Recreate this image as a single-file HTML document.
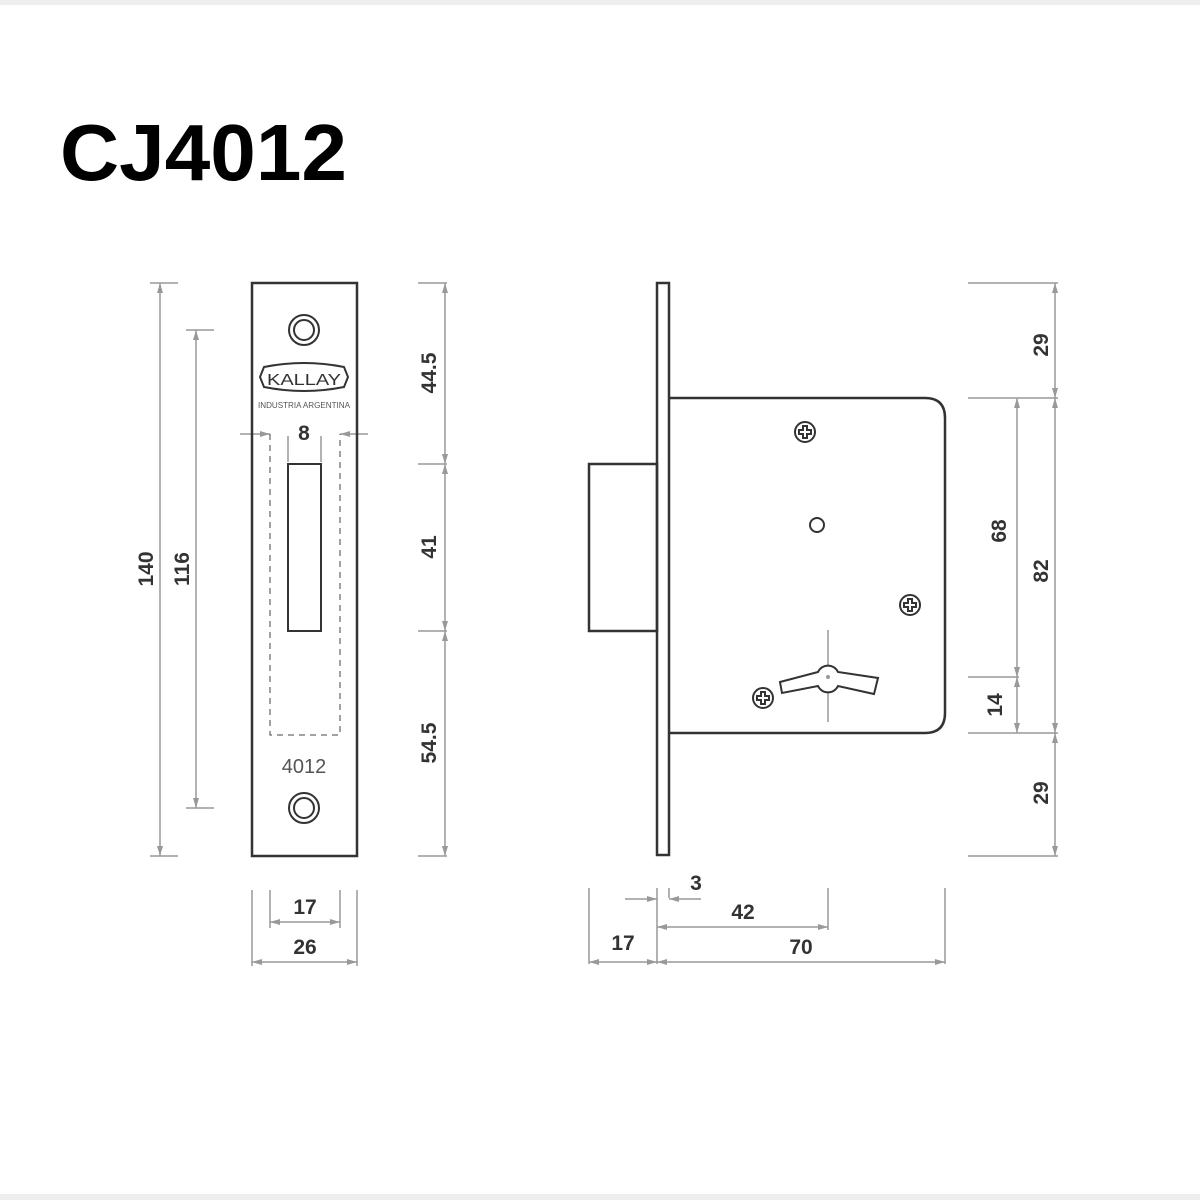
<!DOCTYPE html>
<html><head><meta charset="utf-8"><style>body{margin:0;background:#fff}svg{display:block}</style></head>
<body>
<svg width="1200" height="1200" viewBox="0 0 1200 1200" xmlns="http://www.w3.org/2000/svg" font-family="Liberation Sans, sans-serif">
<defs>
<marker id="a" viewBox="0 0 10 6" refX="10" refY="3" markerWidth="14" markerHeight="6" markerUnits="userSpaceOnUse" orient="auto-start-reverse"><path d="M0 0L10 3L0 6z" fill="#999"/></marker>
</defs>
<rect x="0" y="0" width="1200" height="5" fill="#eee"/>
<rect x="0" y="1194" width="1200" height="6" fill="#eee"/>
<text x="60" y="180" font-size="80" font-weight="bold" textLength="287" lengthAdjust="spacingAndGlyphs" fill="#000">CJ4012</text>

<g stroke="#999" stroke-width="1.5" fill="none">
<line x1="150" y1="283" x2="178" y2="283"/><line x1="150" y1="856" x2="178" y2="856"/>
<line x1="160" y1="283" x2="160" y2="856" marker-start="url(#a)" marker-end="url(#a)"/>
<line x1="186" y1="330" x2="214" y2="330"/><line x1="186" y1="808" x2="214" y2="808"/>
<line x1="196" y1="330" x2="196" y2="808" marker-start="url(#a)" marker-end="url(#a)"/>
<line x1="418" y1="283" x2="447" y2="283"/><line x1="418" y1="464" x2="447" y2="464"/>
<line x1="418" y1="631" x2="447" y2="631"/><line x1="418" y1="856" x2="447" y2="856"/>
<line x1="445" y1="283" x2="445" y2="464" marker-start="url(#a)" marker-end="url(#a)"/>
<line x1="445" y1="464" x2="445" y2="631" marker-start="url(#a)" marker-end="url(#a)"/>
<line x1="445" y1="631" x2="445" y2="856" marker-start="url(#a)" marker-end="url(#a)"/>
<line x1="240" y1="434" x2="270" y2="434" marker-end="url(#a)"/>
<line x1="368" y1="434" x2="340" y2="434" marker-end="url(#a)"/>
<line x1="288" y1="436" x2="288" y2="462"/><line x1="321" y1="436" x2="321" y2="462"/>
<line x1="270" y1="890" x2="270" y2="928"/><line x1="340" y1="890" x2="340" y2="928"/>
<line x1="270" y1="922" x2="340" y2="922" marker-start="url(#a)" marker-end="url(#a)"/>
<line x1="252" y1="890" x2="252" y2="966"/><line x1="357" y1="890" x2="357" y2="966"/>
<line x1="252" y1="962" x2="357" y2="962" marker-start="url(#a)" marker-end="url(#a)"/>
<line x1="589" y1="888" x2="589" y2="964"/><line x1="657" y1="888" x2="657" y2="964"/>
<line x1="669" y1="888" x2="669" y2="898"/><line x1="828" y1="888" x2="828" y2="930"/>
<line x1="945" y1="888" x2="945" y2="964"/>
<line x1="625" y1="899" x2="657" y2="899" marker-end="url(#a)"/>
<line x1="701" y1="899" x2="669" y2="899" marker-end="url(#a)"/>
<line x1="657" y1="927" x2="828" y2="927" marker-start="url(#a)" marker-end="url(#a)"/>
<line x1="589" y1="962" x2="657" y2="962" marker-start="url(#a)" marker-end="url(#a)"/>
<line x1="657" y1="962" x2="945" y2="962" marker-start="url(#a)" marker-end="url(#a)"/>
<line x1="968" y1="283" x2="1058" y2="283"/><line x1="968" y1="398" x2="1058" y2="398"/>
<line x1="968" y1="677" x2="1019" y2="677"/>
<line x1="968" y1="733" x2="1058" y2="733"/><line x1="968" y1="856" x2="1058" y2="856"/>
<line x1="1055" y1="283" x2="1055" y2="398" marker-start="url(#a)" marker-end="url(#a)"/>
<line x1="1055" y1="398" x2="1055" y2="733" marker-start="url(#a)" marker-end="url(#a)"/>
<line x1="1055" y1="733" x2="1055" y2="856" marker-start="url(#a)" marker-end="url(#a)"/>
<line x1="1017" y1="398" x2="1017" y2="677" marker-start="url(#a)" marker-end="url(#a)"/>
<line x1="1017" y1="677" x2="1017" y2="733" marker-start="url(#a)" marker-end="url(#a)"/>
<line x1="828" y1="630" x2="828" y2="722"/>
</g>

<g stroke="#333" fill="none" stroke-width="2.5">
<rect x="252" y="283" width="105" height="573"/>
<rect x="288" y="464" width="33" height="167" stroke-width="2"/>
<circle cx="304" cy="330" r="15" stroke-width="2"/><circle cx="304" cy="330" r="10" stroke-width="2"/>
<circle cx="304" cy="808" r="15" stroke-width="2"/><circle cx="304" cy="808" r="10" stroke-width="2"/>
<path d="M264 367 Q304 359 344 367 L348 377 L344 387 Q304 395 264 387 L260 377 Z" stroke-width="2"/>
</g>
<path d="M270 434 V735 H340 V434" fill="none" stroke="#444" stroke-width="1" stroke-dasharray="6,5"/>
<text x="304" y="385" font-size="16" text-anchor="middle" fill="#333" textLength="74" lengthAdjust="spacingAndGlyphs">KALLAY</text>
<text x="304" y="408" font-size="8.5" text-anchor="middle" fill="#555" textLength="92" lengthAdjust="spacingAndGlyphs">INDUSTRIA ARGENTINA</text>
<text x="304" y="773" font-size="20" text-anchor="middle" fill="#555">4012</text>

<g stroke="#333" fill="none" stroke-width="2.5">
<rect x="657" y="283" width="12" height="572"/>
<path d="M669 398 H925 Q945 398 945 418 V713 Q945 733 925 733 H669"/>
<rect x="589" y="464" width="68" height="167"/>
<circle cx="817" cy="525" r="7" stroke-width="2"/>
<path d="M780 682 L818 672 A11 11 0 0 1 838 672 L878 678 L874 694 L838 686 A11 11 0 0 1 818 686 L782 693 Z" stroke-width="2" fill="#fff"/>
</g>
<circle cx="828" cy="677" r="2" fill="#999"/>
<g stroke="#333" stroke-width="2" fill="none">
<g transform="translate(805,432)"><circle r="10"/><path d="M-2 -6H2V-2H6V2H2V6H-2V2H-6V-2H-2Z"/></g>
<g transform="translate(910,605)"><circle r="10"/><path d="M-2 -6H2V-2H6V2H2V6H-2V2H-6V-2H-2Z"/></g>
<g transform="translate(763,698)"><circle r="10"/><path d="M-2 -6H2V-2H6V2H2V6H-2V2H-6V-2H-2Z"/></g>
</g>

<g font-size="21" font-weight="bold" fill="#333" text-anchor="middle">
<text transform="translate(153,569) rotate(-90)">140</text>
<text transform="translate(189,569) rotate(-90)">116</text>
<text transform="translate(436,373) rotate(-90)">44.5</text>
<text transform="translate(436,547) rotate(-90)">41</text>
<text transform="translate(436,743) rotate(-90)">54.5</text>
<text transform="translate(1048,345) rotate(-90)">29</text>
<text transform="translate(1048,571) rotate(-90)">82</text>
<text transform="translate(1048,793) rotate(-90)">29</text>
<text transform="translate(1006,531) rotate(-90)">68</text>
<text transform="translate(1002,705) rotate(-90)">14</text>
<text x="304" y="440">8</text>
<text x="305" y="914">17</text>
<text x="305" y="954">26</text>
<text x="696" y="890">3</text>
<text x="743" y="919">42</text>
<text x="623" y="950">17</text>
<text x="801" y="954">70</text>
</g>
</svg>
</body></html>
